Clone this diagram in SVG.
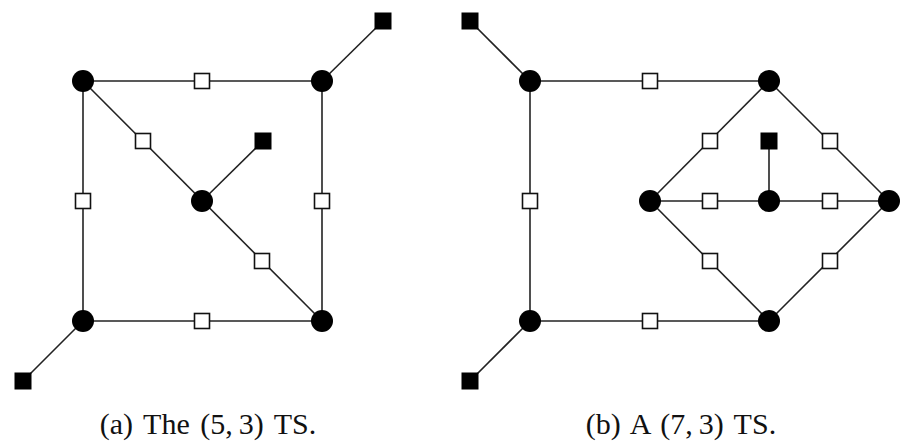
<svg xmlns="http://www.w3.org/2000/svg" width="908" height="444" viewBox="0 0 908 444">
<style>
.e{stroke:#222;stroke-width:1.6;fill:none}
.v{fill:#000}
.c{fill:#fff;stroke:#111;stroke-width:1.6}
.b{fill:#000}
.cap{font-family:"Liberation Serif","Times New Roman",serif;font-size:30px;fill:#111;text-anchor:middle;word-spacing:3px}
</style>
<defs>
<circle id="vn" r="11" class="v"/>
<rect id="cn" x="-7.5" y="-7.5" width="15" height="15" class="c"/>
<rect id="bn" x="-8.5" y="-8.5" width="17" height="17" class="b"/>
</defs>
<g id="connectors">
<line class="e" x1="83" y1="81" x2="322" y2="81"/>
<line class="e" x1="83" y1="81" x2="83" y2="321"/>
<line class="e" x1="322" y1="81" x2="322" y2="321"/>
<line class="e" x1="83" y1="321" x2="322" y2="321"/>
<line class="e" x1="83" y1="81" x2="322" y2="321"/>
<line class="e" x1="322" y1="81" x2="383" y2="21"/>
<line class="e" x1="202" y1="201" x2="263" y2="141"/>
<line class="e" x1="83" y1="321" x2="23" y2="381"/>
<line class="e" x1="530" y1="81" x2="769" y2="81"/>
<line class="e" x1="530" y1="81" x2="530" y2="321"/>
<line class="e" x1="530" y1="321" x2="769" y2="321"/>
<line class="e" x1="530" y1="81" x2="470" y2="21"/>
<line class="e" x1="530" y1="321" x2="470" y2="381"/>
<line class="e" x1="769" y1="81" x2="650" y2="201"/>
<line class="e" x1="769" y1="81" x2="889" y2="201"/>
<line class="e" x1="650" y1="201" x2="769" y2="321"/>
<line class="e" x1="889" y1="201" x2="769" y2="321"/>
<line class="e" x1="650" y1="201" x2="889" y2="201"/>
<line class="e" x1="769" y1="201" x2="769" y2="141"/>
</g>
<g id="a-v1"><use href="#vn" x="83" y="81"/></g>
<g id="a-v2"><use href="#vn" x="322" y="81"/></g>
<g id="a-v3"><use href="#vn" x="83" y="321"/></g>
<g id="a-v4"><use href="#vn" x="322" y="321"/></g>
<g id="a-v5"><use href="#vn" x="202" y="201"/></g>
<g id="a-c1"><use href="#cn" x="202" y="81"/></g>
<g id="a-c2"><use href="#cn" x="83" y="201"/></g>
<g id="a-c3"><use href="#cn" x="322" y="201"/></g>
<g id="a-c4"><use href="#cn" x="202" y="321"/></g>
<g id="a-c5"><use href="#cn" x="143" y="141"/></g>
<g id="a-c6"><use href="#cn" x="262" y="261"/></g>
<g id="a-b1"><use href="#bn" x="383" y="21"/></g>
<g id="a-b2"><use href="#bn" x="263" y="141"/></g>
<g id="a-b3"><use href="#bn" x="23" y="381"/></g>
<g id="b-v1"><use href="#vn" x="530" y="81"/></g>
<g id="b-v2"><use href="#vn" x="769" y="81"/></g>
<g id="b-v3"><use href="#vn" x="530" y="321"/></g>
<g id="b-v4"><use href="#vn" x="769" y="321"/></g>
<g id="b-v5"><use href="#vn" x="650" y="201"/></g>
<g id="b-v6"><use href="#vn" x="769" y="201"/></g>
<g id="b-v7"><use href="#vn" x="889" y="201"/></g>
<g id="b-c1"><use href="#cn" x="650" y="81"/></g>
<g id="b-c2"><use href="#cn" x="530" y="201"/></g>
<g id="b-c3"><use href="#cn" x="650" y="321"/></g>
<g id="b-c4"><use href="#cn" x="710" y="141"/></g>
<g id="b-c5"><use href="#cn" x="830" y="141"/></g>
<g id="b-c6"><use href="#cn" x="710" y="261"/></g>
<g id="b-c7"><use href="#cn" x="830" y="261"/></g>
<g id="b-c8"><use href="#cn" x="710" y="201"/></g>
<g id="b-c9"><use href="#cn" x="830" y="201"/></g>
<g id="b-b1"><use href="#bn" x="470" y="21"/></g>
<g id="b-b2"><use href="#bn" x="769" y="141"/></g>
<g id="b-b3"><use href="#bn" x="470" y="381"/></g>
<text class="cap" x="208" y="434">(a) The (5,&#8201;3) TS.</text>
<text class="cap" x="681" y="434">(b) A (7,&#8201;3) TS.</text>
</svg>
